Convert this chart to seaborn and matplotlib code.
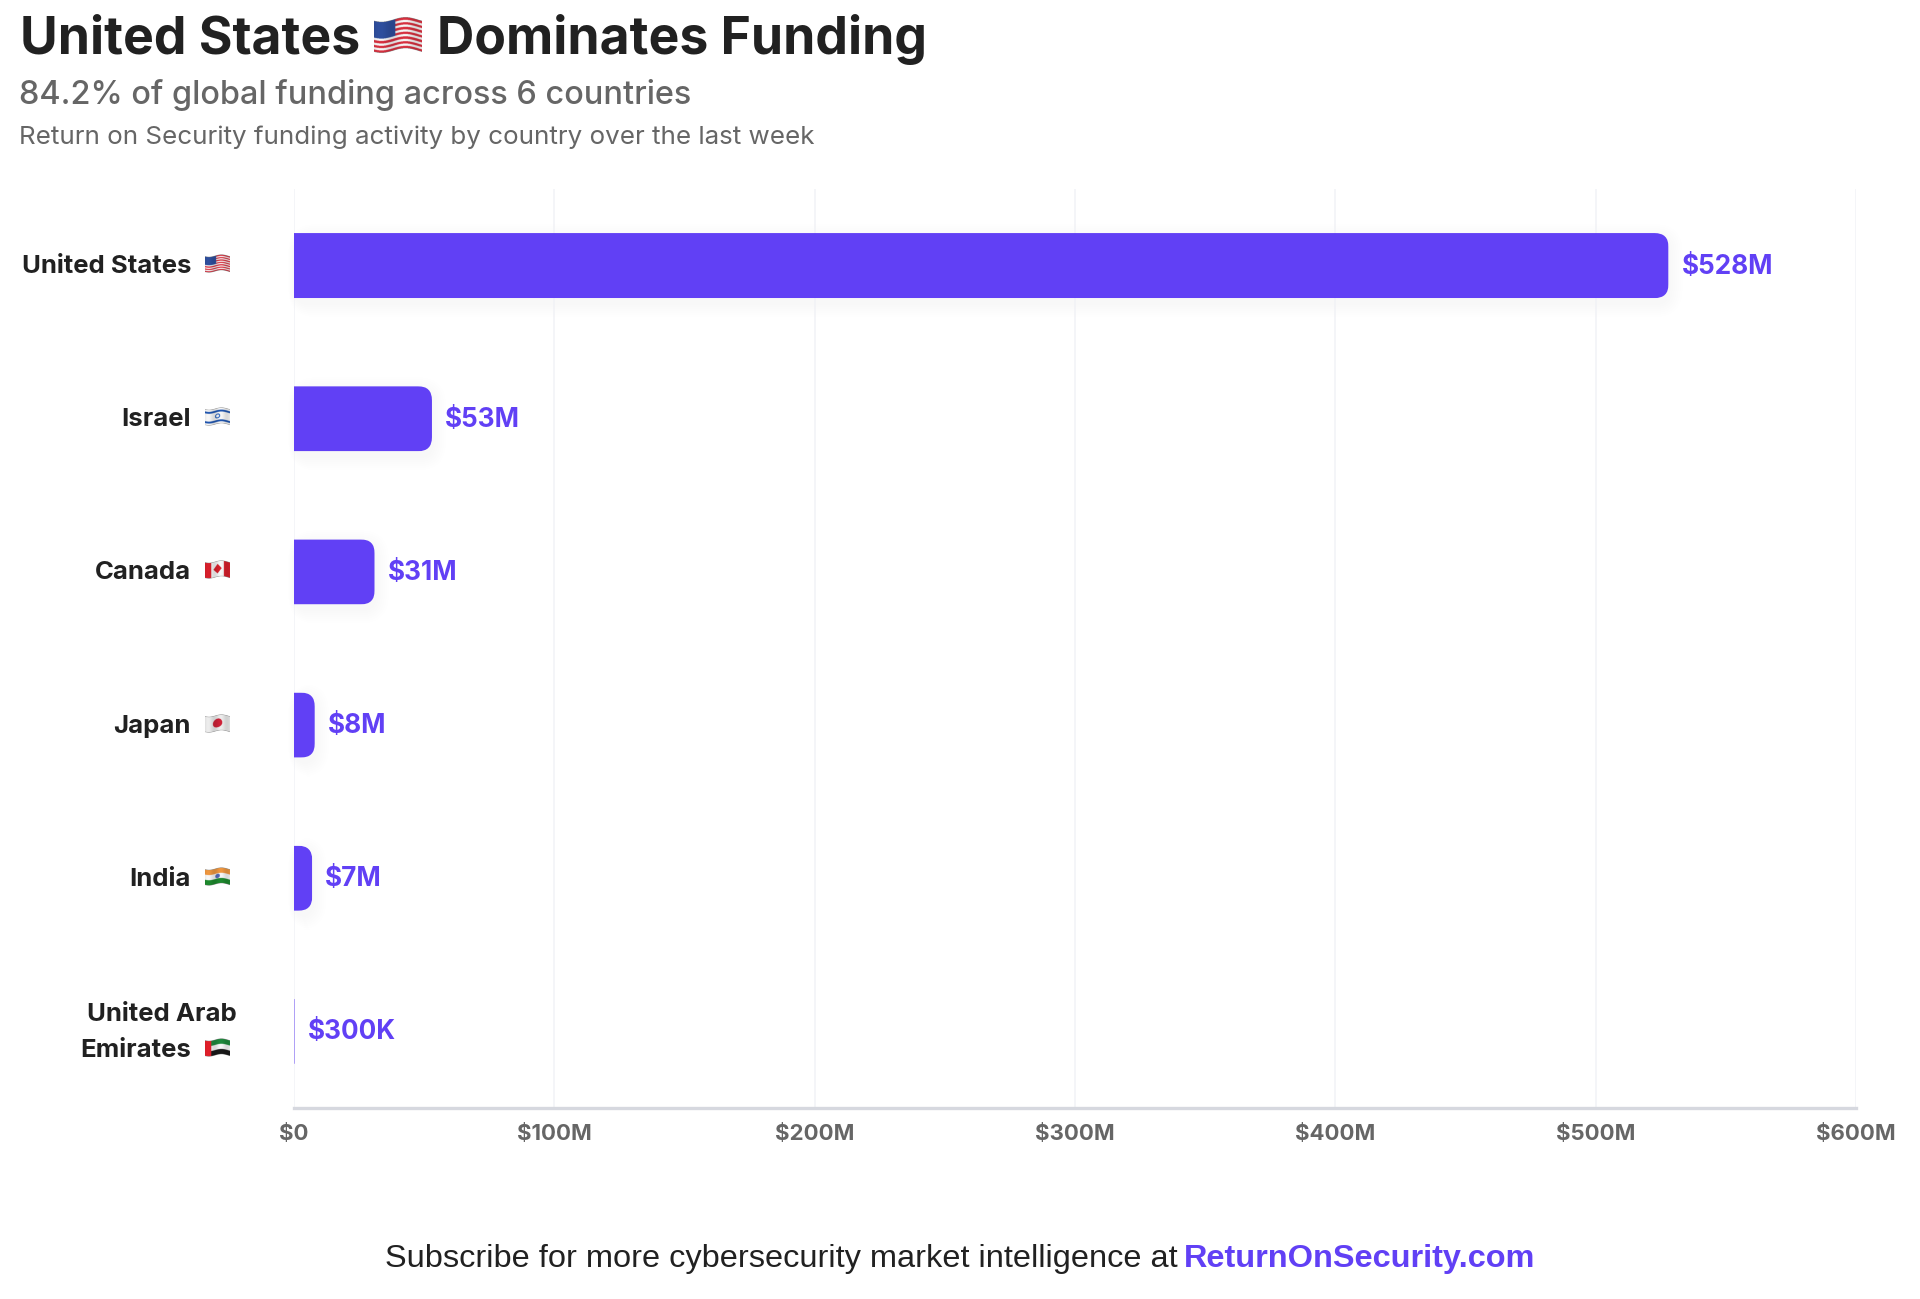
import numpy as np
import seaborn as sns
from matplotlib import pyplot as plt
from matplotlib.patches import FancyBboxPatch
from matplotlib.ticker import FuncFormatter
from matplotlib.transforms import IdentityTransform

COUNTRIES = ['United States', 'Israel', 'Canada', 'Japan', 'India', 'United Arab Emirates']
FLAGS = ['us', 'il', 'ca', 'jp', 'in', 'ae']
FUNDING_M = [528, 53, 31, 8, 7, 0.3]
VALUE_LABELS = ['$528M', '$53M', '$31M', '$8M', '$7M', '$300K']
TICKS_M = [0, 100, 200, 300, 400, 500, 600]
TITLE_LEFT = 'United States'
TITLE_RIGHT = 'Dominates Funding'
SUBTITLE = '84.2% of global funding across 6 countries'
CAPTION = 'Return on Security funding activity by country over the last week'
FOOTER = 'Subscribe for more cybersecurity market intelligence at '
FOOTER_LINK = 'ReturnOnSecurity.com'

W, H = 1920, 1299
PURPLE = '#6140F5'
DARK = '#212121'
GRAY = '#666666'

sns.set_theme(style='white')
plt.rcParams['font.family'] = ['Inter', 'DejaVu Sans']


def make_flag(code):
    # rough little flag picture, rows top to bottom
    h, w = 120, 180
    img = np.ones((h, w, 4))
    img[..., :3] = 0.97
    yy, xx = np.mgrid[0:h, 0:w]

    def col(c):
        return np.array(plt.matplotlib.colors.to_rgb(c))

    if code == 'us':
        for i in range(13):
            if i % 2 == 0:
                img[(yy * 13 // h) == i, :3] = col('#D8303F')
        img[(yy < 65) & (xx < 80), :3] = col('#2F4F9E')
    elif code == 'il':
        img[(yy > 14) & (yy < 30), :3] = col('#1F55B0')
        img[(yy > 90) & (yy < 106), :3] = col('#1F55B0')
        r = np.hypot(xx - 90, yy - 60)
        img[(r < 19) & (r > 11), :3] = col('#2A63BE')
    elif code == 'ca':
        img[xx < 45, :3] = col('#D9202C')
        img[xx > 135, :3] = col('#D9202C')
        leaf = np.abs(xx - 90) + np.abs(yy - 58) * 0.8 < 30
        img[leaf, :3] = col('#D9202C')
    elif code == 'jp':
        img[..., :3] = 0.93
        img[np.hypot(xx - 90, yy - 60) < 34, :3] = col('#CE2138')
    elif code == 'in':
        img[yy < 40, :3] = col('#F0973F')
        img[yy >= 80, :3] = col('#1E8A2E')
        img[np.hypot(xx - 90, yy - 60) < 17, :3] = col('#5468B5')
    elif code == 'ae':
        img[yy < 40, :3] = col('#1F8A3D')
        img[yy >= 80, :3] = col('#1A1A1A')
        img[xx < 45, :3] = col('#E2202A')

    # waving cloth look: shift columns and shade a bit
    pad = 14
    out = np.zeros((h + 2 * pad, w, 4))
    for x in range(w):
        s = int(round(9 * np.sin(x / w * 2 * np.pi + 0.6)))
        out[pad + s:pad + s + h, x] = img[:, x]
        out[:, x, :3] *= 0.94 + 0.06 * np.sin(x / w * 4 * np.pi)
    return out


def draw_flag(fig, code, cx, cy, w, h):
    a = fig.add_axes([(cx - w / 2) / W, 1 - (cy + h / 2) / H, w / W, h / H])
    a.imshow(make_flag(code), aspect='auto', interpolation='antialiased')
    a.axis('off')


fig = plt.figure(figsize=(W / 100, H / 100), dpi=100, facecolor='white')
ax = fig.add_axes([294 / W, 1 - 1108 / H, (1856 - 294) / W, (1108 - 189) / H])

sns.barplot(x=FUNDING_M, y=COUNTRIES, orient='h', color=PURPLE, saturation=1,
            width=0.425, ax=ax, zorder=3)

ax.set_xlim(0, 600)
ax.set_xticks(TICKS_M)
ax.xaxis.set_major_formatter(FuncFormatter(lambda v, p: '$0' if v == 0 else f'${v:.0f}M'))
ax.set_xlabel('')
ax.set_ylabel('')
ax.grid(axis='x', color='#F1F2F6', linewidth=1.1, zorder=0)
ax.grid(axis='y', visible=False)
ax.set_axisbelow(True)
sns.despine(ax=ax, left=True, top=True, right=True)
ax.spines['bottom'].set_color('#D6D8DF')
ax.spines['bottom'].set_linewidth(2.4)
ax.tick_params(axis='x', length=5, width=1, color='#E6E7EC', pad=6.5, labelsize=16,
               labelcolor=GRAY)
for t in ax.get_xticklabels():
    t.set_fontweight('bold')
ax.tick_params(axis='y', left=False, labelleft=False)

# rounded right ends + soft shadow, done in pixel space
for bar in ax.patches:
    x0, y0 = ax.transData.transform((bar.get_x(), bar.get_y()))
    x1, y1 = ax.transData.transform((bar.get_x() + bar.get_width(), bar.get_y() + bar.get_height()))
    ylo, yhi = min(y0, y1), max(y0, y1)
    r = min(14, x1 - x0)
    clip = FancyBboxPatch((x0 - 40, ylo), x1 - x0 + 40, yhi - ylo,
                          boxstyle=f'round,pad=0,rounding_size={r}',
                          transform=IdentityTransform())
    bar.set_clip_path(clip)
    bar.set_snap(False)
    bar.set_linewidth(0)
    if x1 - x0 > 2:
        for grow in range(2, 16, 2):
            fig.add_artist(FancyBboxPatch((x0 - grow * 0.4, ylo - 5 - grow), x1 - x0 + grow * 1.4,
                                          yhi - ylo + grow * 2,
                                          boxstyle=f'round,pad=0,rounding_size={r + grow}',
                                          transform=IdentityTransform(), facecolor=PURPLE,
                                          edgecolor='none', alpha=0.0045, zorder=-1))
    else:
        # the tiny bar shows up as a pale hairline
        bar.set_alpha(0.75)

ax.patch.set_alpha(0)

# value labels
for bar, label in zip(ax.patches, VALUE_LABELS):
    ax.annotate(label, (bar.get_width(), bar.get_y() + bar.get_height() / 2),
                xytext=(13, 2), textcoords='offset pixels', va='center_baseline', ha='left',
                color=PURPLE, fontsize=18.8, fontweight='bold', zorder=4)

# country labels + flags
for i, (name, code) in enumerate(zip(COUNTRIES, FLAGS)):
    cy = 188 + (i + 0.5) * (1107 - 188) / len(COUNTRIES)
    if name == 'United Arab Emirates':
        fig.text(237 / W, 1 - (cy - 18.5) / H, 'United Arab', ha='right', va='center_baseline',
                 fontsize=18.5, fontweight='bold', color=DARK)
        fig.text(191 / W, 1 - (cy + 17.5) / H, 'Emirates', ha='right', va='center_baseline',
                 fontsize=18.5, fontweight='bold', color=DARK)
        draw_flag(fig, code, 217, cy + 17, 25, 19)
    else:
        fig.text(191 / W, 1 - (cy - 0.5) / H, name, ha='right', va='center_baseline',
                 fontsize=18.5, fontweight='bold', color=DARK)
        draw_flag(fig, code, 217, cy - 1, 25, 19)

# headings
fig.text(20 / W, 1 - 54 / H, TITLE_LEFT, fontsize=37.2, fontweight='bold', color=DARK, va='baseline')
draw_flag(fig, 'us', 398, 35, 48, 38)
fig.text(437 / W, 1 - 54 / H, TITLE_RIGHT, fontsize=37.2, fontweight='bold', color=DARK, va='baseline')
fig.text(19 / W, 1 - 104 / H, SUBTITLE, fontsize=23.4, fontweight='medium', color=GRAY, va='baseline')
fig.text(19 / W, 1 - 144 / H, CAPTION, fontsize=18.7, color=GRAY, va='baseline')

# footer
fig.text(385 / W, 1 - 1267 / H, FOOTER, family='Liberation Sans', fontsize=23.4, color=DARK, va='baseline')
fig.text(1184 / W, 1 - 1267 / H, FOOTER_LINK, family='Liberation Sans', fontsize=23.4,
         fontweight='bold', color=PURPLE, va='baseline')

fig.savefig('out.png', dpi=100, facecolor='white')
